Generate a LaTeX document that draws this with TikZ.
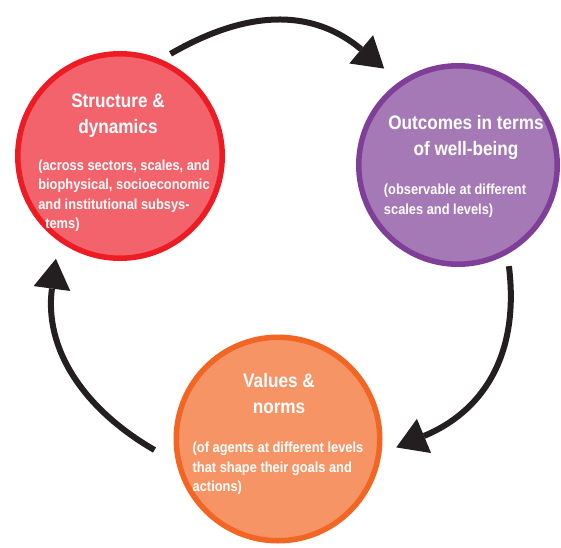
\documentclass[tikz,border=0pt]{standalone}
\usepackage{fontspec}
\setmainfont{Liberation Sans}[FakeStretch=0.88]
\usepackage{tikz}
\usetikzlibrary{positioning,arrows.meta}

\definecolor{sdline}{HTML}{ED1C24}
\definecolor{sdfill}{HTML}{F2636B}
\definecolor{owline}{HTML}{7F3F98}
\definecolor{owfill}{HTML}{A479B6}
\definecolor{vnline}{HTML}{F26522}
\definecolor{vnfill}{HTML}{F79466}
\definecolor{arrowblack}{HTML}{231F20}

\begin{document}
\begin{tikzpicture} [x=1pt, y=1pt,
                    disc/.style={circle, inner sep=0pt, line width=5.5pt},
                    ttl/.style={font=\fontsize{19.5}{26}\selectfont\bfseries, text=white, align=center, inner sep=0pt},
                    txt/.style={font=\fontsize{14.6}{19.5}\selectfont\bfseries, text=white, align=left, inner sep=0pt},
                    cyc/.style={line width=6pt, draw=arrowblack, -{Triangle[length=30pt, width=37pt, line width=0pt]}}]
\useasboundingbox (0,0) rectangle (561,547);

\node[disc, draw=sdline, fill=sdfill, minimum size=204.5pt] (S) at (120,391) {};
\node[disc, draw=owline, fill=owfill, minimum size=198.5pt] (O) at (458,382) {};
\node[disc, draw=vnline, fill=vnfill, minimum size=203.5pt] (V) at (278,108) {};

\node[ttl] (St) at (118,431.5) {Structure \&\\dynamics};
\node[txt] (Sb) [below=22pt of St, xshift=6pt] {(across sectors, scales, and\\biophysical, socioeconomic\\and institutional subsys-\\\hspace*{7pt}tems)};

\node[ttl] (Ot) at (466,409.5) {Outcomes in terms\\of well-being};
\node[txt] (Ob) [below=24pt of Ot, xshift=-11pt] {(observable at different\\scales and levels)};

\node[ttl] (Vt) at (279,153.5) {Values \&\\norms};
\node[txt] (Vb) [below=28pt of Vt, xshift=-1pt] {(of agents at different levels\\that shape their goals and\\actions)};

\draw[cyc, shorten <=11pt, shorten >=20pt] (S.67) to[out=30, in=140, looseness=1.15] (O.125);
\draw[cyc, shorten <=12pt, shorten >=16pt] (O.299) to[out=-83, in=22.5, looseness=1.15] (V.352);
\draw[cyc, shorten <=25pt, shorten >=18pt] (V.193) to[out=150, in=262.4, looseness=1.1] (S.234);
\end{tikzpicture}
\end{document}
